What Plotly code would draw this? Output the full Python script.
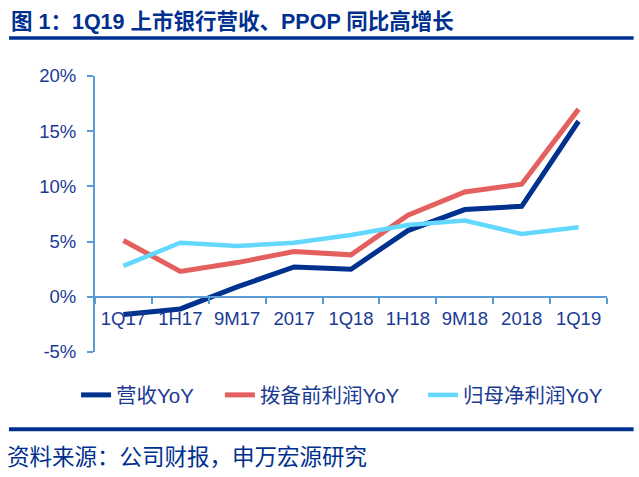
import plotly.graph_objects as go

categories = ["1Q17", "1H17", "9M17", "2017", "1Q18", "1H18", "9M18", "2018", "1Q19"]
revenue_yoy = [-1.6, -1.1, 0.9, 2.7, 2.5, 6.0, 7.9, 8.2, 15.9]
ppop_yoy = [5.1, 2.3, 3.1, 4.1, 3.8, 7.4, 9.5, 10.2, 17.0]
net_profit_yoy = [2.8, 4.9, 4.6, 4.9, 5.6, 6.5, 6.9, 5.7, 6.3]
series_names = ["营收YoY", "拨备前利润YoY", "归母净利润YoY"]
y_tick_values = [-5, 0, 5, 10, 15, 20]
y_tick_labels = ["-5%", "0%", "5%", "10%", "15%", "20%"]
title_text = "图 1：1Q19 上市银行营收、PPOP 同比高增长"
source_text = "资料来源：公司财报，申万宏源研究"

NAVY = "#00308F"
TEXT = "#1A3A94"
AXIS = "#5B9BD5"
FONT = "Liberation Sans, Noto Sans CJK SC, sans-serif"

fig = go.Figure()
legend_ids = ["legend", "legend2", "legend3"]
legend_x = [-0.037, 0.244, 0.6406]
for name, vals, color, w, lg in [
    (series_names[0], revenue_yoy, "#00318F", 5, legend_ids[0]),
    (series_names[1], ppop_yoy, "#E4605E", 5, legend_ids[1]),
    (series_names[2], net_profit_yoy, "#63D8FF", 4.5, legend_ids[2]),
]:
    fig.add_trace(go.Scatter(x=categories, y=vals, name=name, mode="lines", legend=lg,
                             line=dict(color=color, width=w)))

legend_common = dict(orientation="h", xanchor="left", y=-0.156, yanchor="middle",
                     font=dict(size=20.5, color=TEXT, family=FONT),
                     bgcolor="rgba(0,0,0,0)", itemwidth=30)

fig.update_layout(
    width=639, height=477,
    margin=dict(l=95, r=32, t=76, b=125),
    paper_bgcolor="white", plot_bgcolor="white",
    font=dict(family=FONT, color=TEXT, size=18),
    showlegend=True,
    legend=dict(x=legend_x[0], **legend_common),
    legend2=dict(x=legend_x[1], **legend_common),
    legend3=dict(x=legend_x[2], **legend_common),
    xaxis=dict(type="category", anchor="free", position=0.2, range=[-0.5, 8.5],
               showline=True, linecolor=AXIS, linewidth=2,
               ticks="outside", tickson="boundaries", ticklen=6, tickcolor=AXIS, tickwidth=2,
               showgrid=False, zeroline=False, ticklabelstandoff=5,
               tickfont=dict(size=18.5, color=TEXT, family=FONT)),
    yaxis=dict(range=[-5, 20], tickmode="array", tickvals=y_tick_values, ticktext=y_tick_labels,
               showline=True, linecolor=AXIS, linewidth=2,
               ticks="outside", ticklen=6, tickcolor=AXIS, tickwidth=2,
               showgrid=False, zeroline=False, ticklabelstandoff=7,
               tickfont=dict(size=18.5, color=TEXT, family=FONT)),
)

# title and source with rules
fig.add_annotation(text="<b>" + title_text + "</b>", xref="paper", yref="paper",
                   x=-0.168, y=1.199, xanchor="left", yanchor="middle", showarrow=False,
                   font=dict(size=21.5, color=NAVY, family="Liberation Sans, Noto Sans CJK SC"))
fig.add_shape(type="line", xref="paper", yref="paper", x0=-0.168, x1=1.052,
              y0=1.138, y1=1.138, line=dict(color=NAVY, width=3.5))
fig.add_shape(type="line", xref="paper", yref="paper", x0=-0.168, x1=1.052,
              y0=-0.28, y1=-0.28, line=dict(color=NAVY, width=4))
fig.add_annotation(text=source_text, xref="paper", yref="paper",
                   x=-0.176, y=-0.373, xanchor="left", yanchor="middle", showarrow=False,
                   font=dict(size=22.5, color=NAVY, family="Noto Sans CJK SC"))

fig.write_html("out.html", config={"displayModeBar": False},
               post_script="document.body.style.margin='0';")
